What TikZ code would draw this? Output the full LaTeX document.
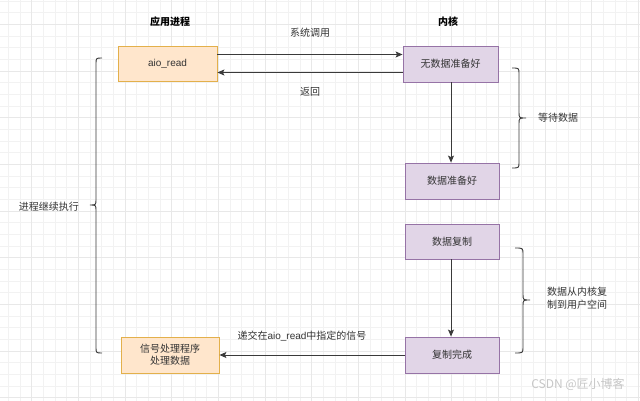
\documentclass[tikz,border=0pt]{standalone}
\usepackage{fontspec}
\setmainfont{Liberation Sans}
\newfontfamily\cjk{Noto Sans CJK SC}
\usetikzlibrary{arrows.meta,calc}
\definecolor{txt}{HTML}{333333}
\definecolor{ln}{HTML}{3a3a3a}
\definecolor{ofill}{HTML}{FFE6CC}
\definecolor{odraw}{HTML}{E3B04B}
\definecolor{pfill}{HTML}{E1D5E7}
\definecolor{pdraw}{HTML}{9673A6}
\definecolor{gmin}{HTML}{F2F2F2}
\definecolor{gmaj}{HTML}{E8E8E8}
\tikzset{
  obox/.style={draw=odraw,fill=ofill,line width=0.9pt,minimum width=98pt,minimum height=35pt,inner sep=0pt,text=txt,font=\fontsize{10}{12}\selectfont,align=center},
  pbox/.style={draw=pdraw,fill=pfill,line width=0.9pt,minimum width=94pt,minimum height=35pt,inner sep=0pt,text=txt,font=\fontsize{10}{12}\selectfont\cjk,align=center},
  arr/.style={draw=ln,line width=0.9pt,-{Stealth[length=7pt,width=6pt,inset=1.5pt]}},
  lbl/.style={text=txt,font=\fontsize{10}{12.5}\selectfont\cjk,inner sep=0pt,align=center},
  ttl/.style={text=black,font=\fontsize{10}{12}\selectfont\cjk\bfseries,inner sep=0pt},
  brace/.style={draw=ln,line width=0.9pt},
}
\begin{document}
\begin{tikzpicture}[x=1pt,y=-1pt]
\useasboundingbox (0,0) rectangle (640,401);
\fill[white] (0,0) rectangle (640,401);
% grid
\foreach \i in {0,...,54} {\draw[gmin,line width=0.6pt] (8.33+11.667*\i,0) -- (8.33+11.667*\i,401);}
\foreach \i in {0,...,34} {\draw[gmin,line width=0.6pt] (0,1.0+11.667*\i) -- (640,1.0+11.667*\i);}
\foreach \i in {0,...,13} {\draw[gmaj,line width=0.7pt] (31.67+46.667*\i,0) -- (31.67+46.667*\i,401);}
\foreach \i in {0,...,8} {\draw[gmaj,line width=0.7pt] (0,24.33+46.667*\i) -- (640,24.33+46.667*\i);}

% titles
\node[ttl] (t1) at (170,22) {应用进程};
\node[ttl] (t2) at (448,22) {内核};

% boxes
\node[obox,minimum width=99pt] (aio) at (167.5,63.5) {aio\_read};
\node[pbox,minimum width=95pt,minimum height=36pt] (nodata) at (450.5,64) {无数据准备好};
\node[pbox,minimum height=36pt] (ready) at (452,181) {数据准备好};
\node[pbox] (copy) at (452,241.5) {数据复制};
\node[pbox,minimum height=36pt] (done) at (452,355) {复制完成};
\node[obox,minimum height=36pt,font=\fontsize{10}{12}\selectfont\cjk] (sig) at (170,355) {信号处理程序\\处理数据};

% arrows
\draw[arr] ([yshift=9pt]aio.east) -- ([yshift=9pt]aio.east -| nodata.west);
\draw[arr] ([yshift=-8.5pt]nodata.west) -- ([yshift=-8.5pt]nodata.west -| aio.east);
\draw[arr] ([xshift=0.5pt]nodata.south) -- ([xshift=0.5pt]nodata.south |- ready.north);
\draw[arr] ([xshift=-1pt]copy.south) -- ([xshift=-1pt]copy.south |- done.north);
\draw[arr] (done.west) -- (done.west -| sig.east);

% labels
\node[lbl] (l1) at (310,33) {系统调用};
\node[lbl] (l2) at (310,92) {返回};
\node[lbl] (l3) at (302,336) {递交在{\fontspec{Liberation Sans}aio\_read}中指定的信号};
\node[lbl] (l4) at (558,118) {等待数据};
\node[lbl,align=left] (l5) at (577,298) {数据从内核复\\制到用户空间};
\node[lbl] (l6) at (49,207) {进程继续执行};

% braces
\draw[brace] (102,58) .. controls (96,58) .. (96,64) -- (96,199) .. controls (96,205) .. (90,205)
  .. controls (96,205) .. (96,211) -- (96,347) .. controls (96,353) .. (102,353);
\draw[brace] (512,68) .. controls (519,68) .. (519,74) -- (519,112) .. controls (519,118) .. (526,118)
  .. controls (519,118) .. (519,124) -- (519,162) .. controls (519,168) .. (512,168);
\draw[brace] (515,248) .. controls (523,248) .. (523,254) -- (523,294) .. controls (523,300) .. (530,300)
  .. controls (523,300) .. (523,306) -- (523,347) .. controls (523,353) .. (515,353);

% watermark
\node[text=black!22,font=\fontsize{12}{14}\selectfont\cjk,inner sep=0pt] (wm) at (578,384) {CSDN @匠小博客};
\end{tikzpicture}
\end{document}
